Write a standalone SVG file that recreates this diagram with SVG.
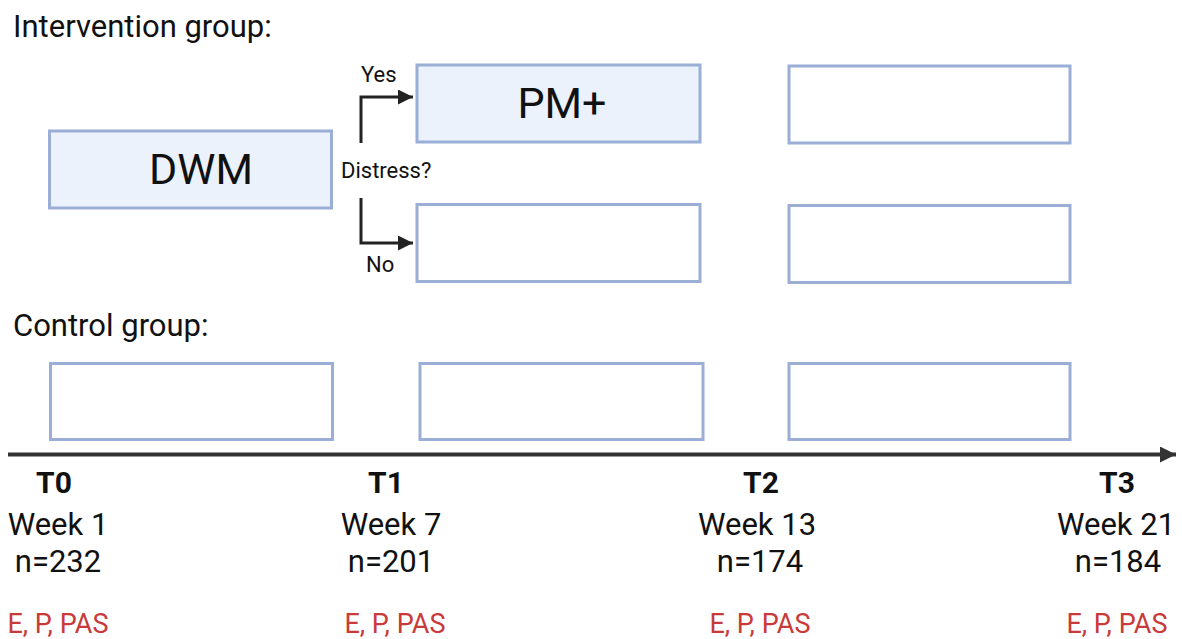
<svg xmlns="http://www.w3.org/2000/svg" width="1182" height="639" viewBox="0 0 1182 639">
<style>
text{font-family:Roboto,"Liberation Sans",sans-serif;fill:#111}
.box{fill:#ffffff;stroke:#9aaed6;stroke-width:3}
.fill{fill:#ebf2fb}
.head{font-size:31px}
.big{font-size:43px;text-anchor:middle}
.small{font-size:22px}
.t{font-size:30px;font-weight:bold;text-anchor:middle}
.w{font-size:31px;text-anchor:middle}
.m{font-size:27px;text-anchor:middle;fill:#c93a3a}
.conn{fill:none;stroke:#222;stroke-width:3}
</style>
<defs>
<marker id="ah" viewBox="0 0 10 10" refX="10" refY="5" markerWidth="5" markerHeight="5" markerUnits="strokeWidth" orient="auto">
<path d="M0,0 L10,5 L0,10 z" fill="#222"/>
</marker>
<marker id="ah2" viewBox="0 0 10 10" refX="10" refY="5" markerWidth="4" markerHeight="4" markerUnits="strokeWidth" orient="auto">
<path d="M0,0 L10,5 L0,10 z" fill="#333"/>
</marker>
</defs>
<text class="head" x="13" y="37">Intervention group:</text>
<text class="head" x="13" y="336">Control group:</text>
<g id="dwm"><rect class="box fill" x="49.5" y="131" width="282" height="77"/><text class="big" x="201" y="184">DWM</text></g>
<g id="pm"><rect class="box fill" x="417" y="65" width="283" height="77"/><text class="big" x="562" y="118">PM+</text></g>
<g id="i1"><rect class="box" x="789" y="66" width="281" height="77"/></g>
<g id="n1"><rect class="box" x="417" y="204.5" width="283" height="77"/></g>
<g id="n2"><rect class="box" x="789" y="205.5" width="281" height="77"/></g>
<g id="c0"><rect class="box" x="50.5" y="363.5" width="282" height="76"/></g>
<g id="c1"><rect class="box" x="420" y="363.5" width="283" height="76"/></g>
<g id="c2"><rect class="box" x="789" y="363.5" width="281" height="76"/></g>
<g id="decision">
<text class="small" x="341" y="178">Distress?</text>
<text class="small" x="361" y="82">Yes</text>
<text class="small" x="366" y="272">No</text>
</g>
<g id="connectors">
<path class="conn" d="M361,143 V97 H413" marker-end="url(#ah)"/>
<path class="conn" d="M361,198 V243 H413" marker-end="url(#ah)"/>
<path d="M8,454.5 H1176" fill="none" stroke="#333" stroke-width="4" marker-end="url(#ah2)"/>
</g>
<g id="t0">
<text class="t" x="54" y="493">T0</text>
<text class="w" x="58" y="535">Week 1</text>
<text class="w" x="58" y="572">n=232</text>
<text class="m" x="58" y="633">E, P, PAS</text>
</g>
<g id="t1">
<text class="t" x="386" y="493">T1</text>
<text class="w" x="391" y="535">Week 7</text>
<text class="w" x="391" y="572">n=201</text>
<text class="m" x="395" y="633">E, P, PAS</text>
</g>
<g id="t2">
<text class="t" x="761" y="493">T2</text>
<text class="w" x="757" y="535">Week 13</text>
<text class="w" x="760" y="572">n=174</text>
<text class="m" x="760" y="633">E, P, PAS</text>
</g>
<g id="t3">
<text class="t" x="1117" y="493">T3</text>
<text class="w" x="1116" y="535">Week 21</text>
<text class="w" x="1118" y="572">n=184</text>
<text class="m" x="1117" y="633">E, P, PAS</text>
</g>
</svg>
